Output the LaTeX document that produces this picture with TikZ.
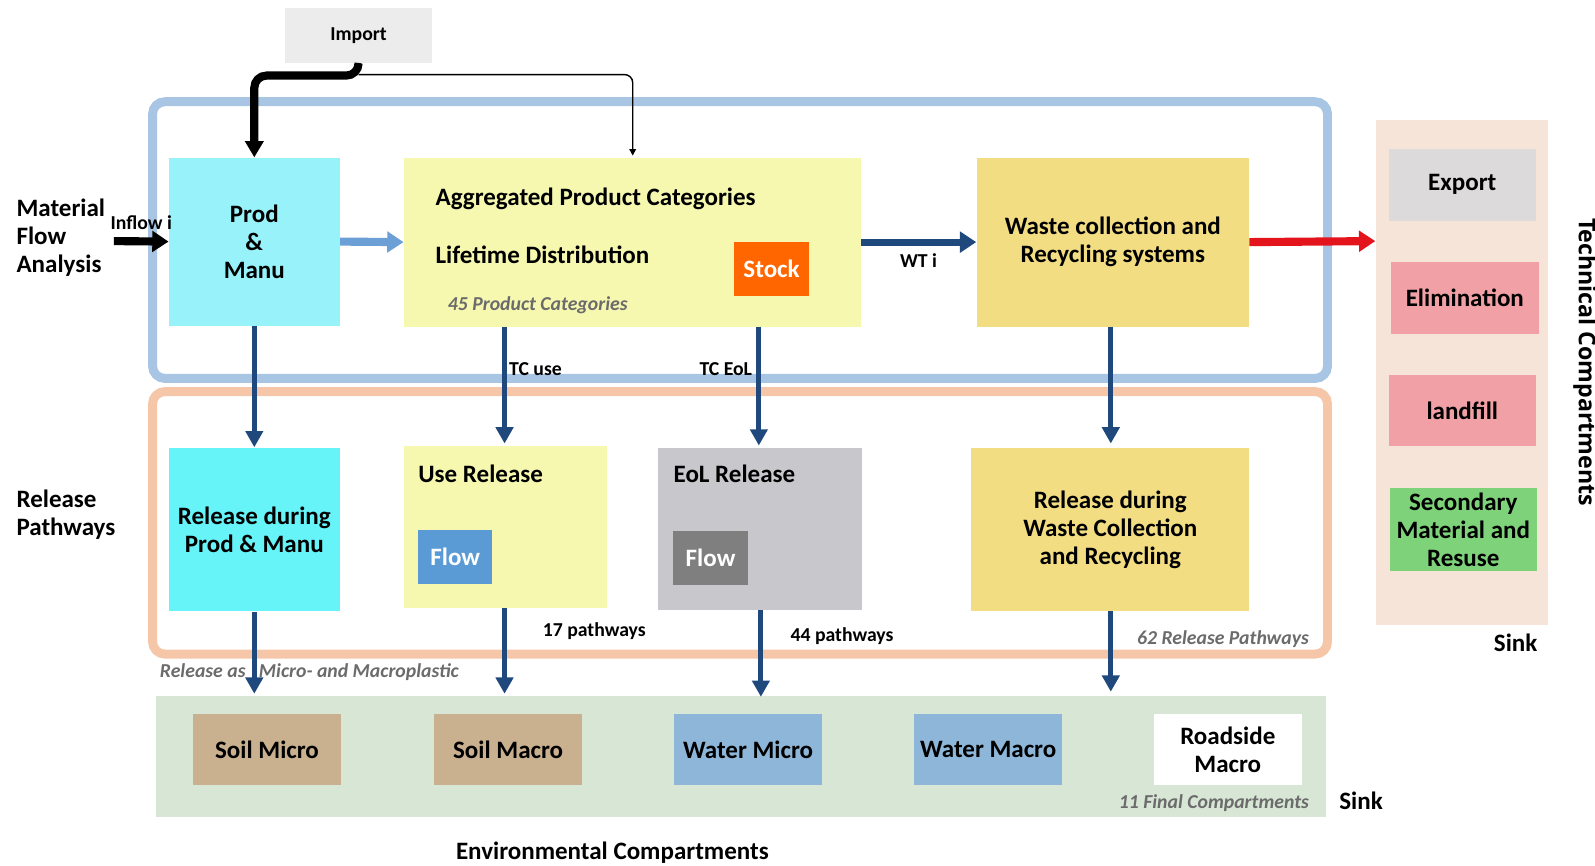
\documentclass[tikz,border=0pt]{standalone}
\usepackage{fontspec}
\setmainfont{Carlito}
\newfontfamily\tcfont{Open Sans}
\usetikzlibrary{arrows.meta}

\definecolor{frameblue}{HTML}{A8C6E4}
\definecolor{frameorange}{HTML}{F6C6A9}
\definecolor{prodcyan}{HTML}{97F2FA}
\definecolor{relcyan}{HTML}{66F4F8}
\definecolor{lightyellow}{HTML}{F6F8B0}
\definecolor{gold}{HTML}{F3DD83}
\definecolor{stockorange}{HTML}{FF6600}
\definecolor{eolgray}{HTML}{C8C8CC}
\definecolor{flowblue}{HTML}{5B9BD5}
\definecolor{flowgray}{HTML}{7F7F7F}
\definecolor{envgreen}{HTML}{D8E7D5}
\definecolor{soil}{HTML}{C9B08E}
\definecolor{water}{HTML}{8DB6D9}
\definecolor{techpeach}{HTML}{F6E4D8}
\definecolor{exportgray}{HTML}{DCDADA}
\definecolor{sinkpink}{HTML}{F1A1A5}
\definecolor{secgreen}{HTML}{7DD27A}
\definecolor{darkarrow}{HTML}{1F497D}
\definecolor{lightarrow}{HTML}{6C9FD6}
\definecolor{redarrow}{HTML}{E3141B}
\definecolor{notegray}{HTML}{6B6B6B}
\definecolor{importgray}{HTML}{ECECEC}

\newcommand{\bigtext}{\fontsize{17.5}{19.5}\selectfont\bfseries}
\newcommand{\smalltext}{\fontsize{13.8}{16}\selectfont\bfseries}

\begin{document}
\begin{tikzpicture}[x=0.25mm,y=-0.25mm,
  box/.style={inner sep=0pt,align=center,font=\bigtext},
  flowbox/.style={box,text=white,minimum width=18.25mm,minimum height=13.25mm},
  sinkbox/.style={box,minimum width=36.25mm},
  envbox/.style={box,minimum width=36.25mm,minimum height=17.5mm},
  frame/.style={line width=2.2mm,rounded corners=3mm},
  note/.style={font=\smalltext\itshape,text=notegray,inner sep=0pt},
  lbl/.style={font=\smalltext,text=black,inner sep=0pt},
  side/.style={font=\bigtext,align=left,inner sep=0pt,anchor=west},
  down/.style={darkarrow,line width=1.25mm,-{Triangle[length=4mm,width=4.2mm]}},
  fat/.style={line width=2mm,-{Triangle[length=4mm,width=5mm]}}]
\useasboundingbox (0,0) rectangle (1568,851);

% panels
\fill[envgreen] (153,684) rectangle (1304,803);
\fill[techpeach] (1353,118) rectangle (1522,614);
\draw[frame,frameblue] (150,100) rectangle (1305,372);
\draw[frame,frameorange] (150,385) rectangle (1305,643);

% material flow analysis
\node[box,fill=importgray,minimum width=36.25mm,minimum height=13.5mm,font=\smalltext] (imp) at (352.5,35) {Import};
\node[box,fill=prodcyan,minimum width=42mm,minimum height=41.25mm] (prod) at (250,237.5) {Prod\\\&\\Manu};
\node[box,fill=lightyellow,minimum width=112.25mm,minimum height=41.5mm] (agg) at (621.5,238) {};
\node[box,anchor=west] (aggt) at (428,195) {Aggregated Product Categories};
\node[box,anchor=west] (life) at (428,250) {Lifetime Distribution};
\node[note,anchor=west] (cat) at (440,300) {45 Product Categories};
\node[flowbox,fill=stockorange] (stock) at (758.5,264.5) {Stock};
\node[box,fill=gold,minimum width=67mm,minimum height=41.5mm] (waste) at (1094,238) {Waste collection and\\Recycling systems};

% release pathways
\node[box,fill=relcyan,minimum width=42mm,minimum height=40.25mm] (relprod) at (250,520.5) {Release during\\Prod \& Manu};
\node[box,fill=lightyellow,minimum width=50mm,minimum height=40mm] (use) at (497,518) {};
\node[box,anchor=west] (uset) at (411,466) {Use Release};
\node[flowbox,fill=flowblue] (flowu) at (447.5,547.5) {Flow};
\node[box,fill=eolgray,minimum width=50mm,minimum height=40mm] (eol) at (747,520) {};
\node[box,anchor=west] (eolt) at (662,466) {EoL Release};
\node[flowbox,fill=flowgray] (flowe) at (698.5,548.5) {Flow};
\node[box,fill=gold,minimum width=68.25mm,minimum height=40.25mm] (relwaste) at (1091.5,520.5) {Release during\\Waste Collection\\and Recycling};

% environmental compartments
\node[envbox,fill=soil] (soilmi) at (262.5,737) {Soil Micro};
\node[envbox,fill=soil] (soilma) at (499.5,737) {Soil Macro};
\node[envbox,fill=water] (watmi) at (735.5,737) {Water Micro};
\node[envbox,fill=water] (watma) at (971.5,737) {Water Macro};
\node[envbox,fill=white] (road) at (1207,737) {Roadside\\Macro};

% technical compartments
\node[sinkbox,fill=exportgray,minimum height=17.75mm] (export) at (1437.5,181.5) {Export};
\node[sinkbox,fill=sinkpink,minimum height=17.5mm] (elim) at (1440,293) {Elimination};
\node[sinkbox,fill=sinkpink,minimum height=17.25mm] (land) at (1437.5,403.5) {landfill};
\node[sinkbox,fill=secgreen,minimum height=20.25mm] (sec) at (1438.5,520.5) {Secondary\\Material and\\Resuse};
\coordinate (tech) at (1352,237);

% side labels
\node[side] (mfa) at (16,234) {Material\\Flow\\Analysis};
\node[side] (rp) at (16,506) {Release\\Pathways};
\node[box] (envc) at (602,838) {Environmental Compartments};
\node[box] (sink1) at (1490,632) {Sink};
\node[box] (sink2) at (1338,787) {Sink};
\node[inner sep=0pt,rotate=-90,font=\tcfont\fontsize{16.2}{18}\selectfont\bfseries] (tc) at (1558,356) {Technical Compartments};
\node[note,anchor=west] (relas) at (157,661) {Release as \ \ Micro- and Macroplastic};
\node[note,anchor=east] (rel62) at (1287,628) {62 Release Pathways};
\node[note,anchor=east] (fin11) at (1287,790) {11 Final Compartments};

% flows
\coordinate (in) at (112,237);
\draw[fat,black] (in) -- (prod.west) node[lbl,midway,above=5pt] {Inflow i};
\draw[black,line width=2mm,rounded corners=3mm,-{Triangle[length=4mm,width=4.4mm]}]
  (imp.south) -- ++(0,12) -| (prod.north);
\draw[black,line width=0.35mm,rounded corners=2mm,-{Triangle[length=1.6mm,width=1.6mm]}]
  ([yshift=-11*0.25mm]imp.south) -| (622,153);
\draw[fat,lightarrow] (prod.east) -- (agg.west);
\draw[fat,darkarrow,line width=1.7mm] (agg.east) -- (waste.west) node[lbl,midway,below=6pt] {WT i};
\draw[fat,redarrow] (waste.east) -- (tech);

\draw[down] (prod.south) -- (relprod.north);
\draw[down] (496,321) -- (496,436) node[lbl,pos=0.36,right=1.5pt] {TC use};
\draw[down] (746,321) -- (746,438) node[lbl,pos=0.36,left=3pt] {TC EoL};
\draw[down] (1092,321) -- (1092,436);

\draw[down] (relprod.south) -- (250,682);
\draw[down] (496,598) -- (496,682) node[lbl,pos=0.27,right=25pt] {17 pathways};
\draw[down] (748,600) -- (748,685) node[lbl,pos=0.3,right=19pt] {44 pathways};
\draw[down] (1092,601) -- (1092,680);
\end{tikzpicture}
\end{document}
